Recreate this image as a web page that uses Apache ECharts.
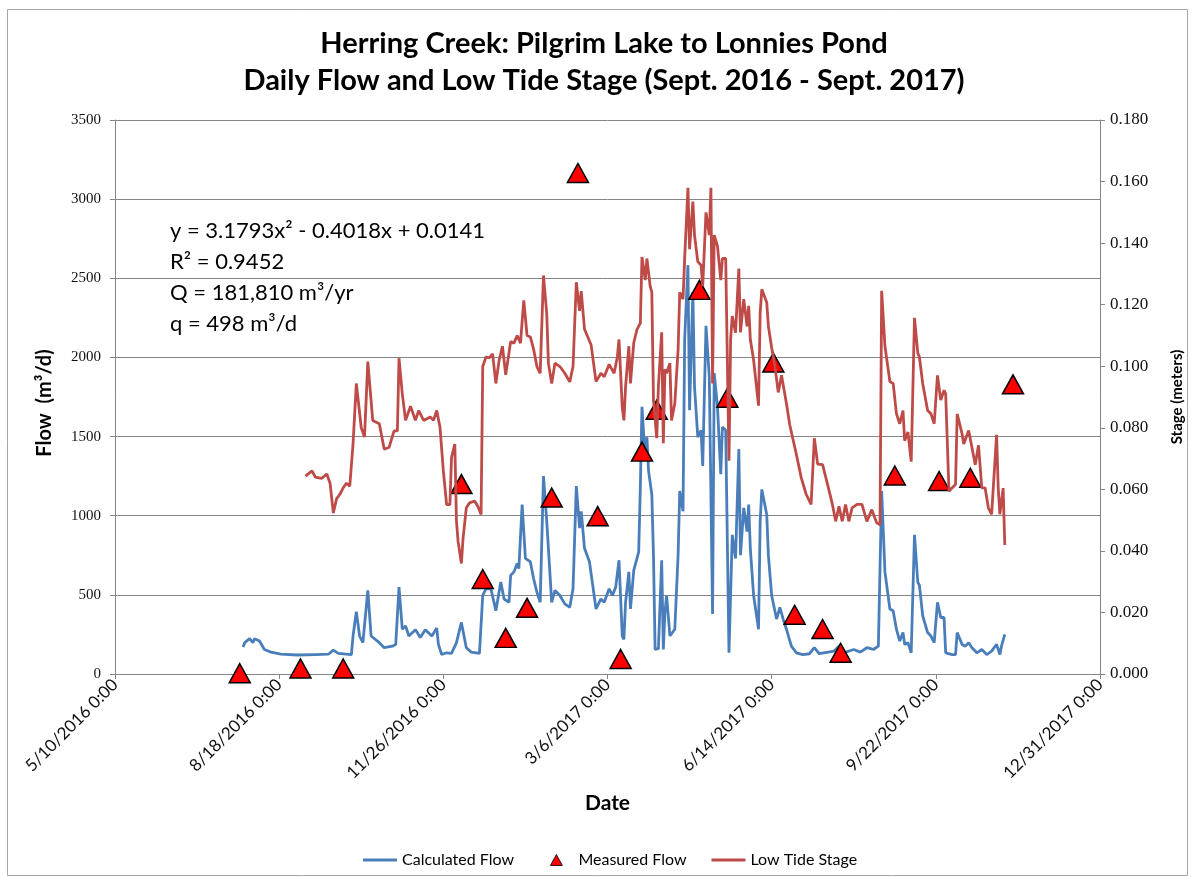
<!DOCTYPE html>
<html><head><meta charset="utf-8">
<script src="https://cdn.jsdelivr.net/npm/echarts@6/dist/echarts.min.js"></script>
<style>html,body{margin:0;padding:0;background:#fff}#c{width:1194px;height:878px}</style>
</head><body><div id="c"></div>
<script>
const titleLines = ['Herring Creek: Pilgrim Lake to Lonnies Pond', 'Daily Flow and Low Tide Stage (Sept. 2016 - Sept. 2017)'];
const xTickDates = ['2016-05-10','2016-08-18','2016-11-26','2017-03-06','2017-06-14','2017-09-22','2017-12-31'];
const xTickLabels = ['5/10/2016 0:00','8/18/2016 0:00','11/26/2016 0:00','3/6/2017 0:00','6/14/2017 0:00','9/22/2017 0:00','12/31/2017 0:00'];
const annotationLines = ['y = 3.1793x\u00b2 - 0.4018x + 0.0141', 'R\u00b2 = 0.9452', 'Q = 181,810 m\u00b3/yr', 'q = 498 m\u00b3/d'];

const calculatedFlow = [
['2016-07-27',170],['2016-07-28',198],['2016-07-31',223],['2016-08-02',198],['2016-08-03',223],['2016-08-06',208],
['2016-08-09',155],['2016-08-13',138],['2016-08-19',125],['2016-08-29',120],['2016-09-09',123],['2016-09-17',125],
['2016-09-20',151],['2016-09-23',130],['2016-10-01',123],['2016-10-02',240],['2016-10-04',394],['2016-10-06',240],
['2016-10-08',198],['2016-10-11',528],['2016-10-13',240],['2016-10-18',198],['2016-10-21',166],['2016-10-26',176],
['2016-10-28',187],['2016-10-30',549],['2016-11-01',283],['2016-11-03',304],['2016-11-05',240],['2016-11-09',280],
['2016-11-12',230],['2016-11-15',280],['2016-11-19',240],['2016-11-22',290],['2016-11-23',187],['2016-11-25',123],
['2016-11-28',134],['2016-12-01',130],['2016-12-04',198],['2016-12-07',326],['2016-12-10',166],['2016-12-13',138],
['2016-12-18',130],['2016-12-20',496],['2016-12-22',538],['2016-12-25',538],['2016-12-28',400],['2016-12-31',581],
['2017-01-02',474],['2017-01-05',453],['2017-01-06',623],['2017-01-08',645],['2017-01-10',698],['2017-01-11',666],
['2017-01-13',1070],['2017-01-15',730],['2017-01-18',709],['2017-01-20',602],['2017-01-22',517],['2017-01-24',453],
['2017-01-26',1251],['2017-01-28',964],['2017-01-30',623],['2017-01-31',453],['2017-02-02',528],['2017-02-05',496],
['2017-02-08',443],['2017-02-11',421],['2017-02-13',538],['2017-02-15',1187],['2017-02-17',921],['2017-02-18',1028],
['2017-02-20',794],['2017-02-23',709],['2017-02-25',560],['2017-02-27',411],['2017-03-02',474],['2017-03-04',453],
['2017-03-07',538],['2017-03-09',496],['2017-03-11',549],['2017-03-13',719],['2017-03-15',240],['2017-03-16',219],
['2017-03-17',453],['2017-03-19',645],['2017-03-20',411],['2017-03-22',655],['2017-03-25',772],['2017-03-26',1177],
['2017-03-27',1688],['2017-03-29',1347],['2017-03-30',1496],['2017-03-31',1283],['2017-04-02',1134],['2017-04-03',751],
['2017-04-04',155],['2017-04-06',160],['2017-04-08',719],['2017-04-09',155],['2017-04-10',389],['2017-04-11',496],
['2017-04-13',240],['2017-04-14',240],['2017-04-16',283],['2017-04-18',751],['2017-04-19',1156],['2017-04-21',1028],
['2017-04-22',2113],['2017-04-24',2583],['2017-04-25',1666],['2017-04-27',2413],['2017-04-28',1815],['2017-04-30',1496],
['2017-05-02',1540],['2017-05-03',1315],['2017-05-05',2200],['2017-05-07',1879],['2017-05-09',379],['2017-05-10',1900],
['2017-05-12',1688],['2017-05-14',1262],['2017-05-15',1560],['2017-05-17',1540],['2017-05-19',134],['2017-05-21',879],
['2017-05-23',730],['2017-05-25',1421],['2017-05-26',751],['2017-05-28',1049],['2017-05-30',900],['2017-05-31',1070],
['2017-06-01',794],['2017-06-03',496],['2017-06-06',283],['2017-06-07',964],['2017-06-08',1166],['2017-06-11',1007],
['2017-06-12',751],['2017-06-14',496],['2017-06-17',347],['2017-06-19',421],['2017-06-21',347],['2017-06-23',283],
['2017-06-26',176],['2017-06-29',134],['2017-07-03',123],['2017-07-07',128],['2017-07-10',166],['2017-07-13',128],
['2017-07-22',145],['2017-07-25',176],['2017-07-28',134],['2017-08-03',155],['2017-08-07',138],['2017-08-11',166],
['2017-08-15',155],['2017-08-18',176],['2017-08-20',1156],['2017-08-22',645],['2017-08-23',645],['2017-08-25',411],
['2017-08-27',400],['2017-08-29',283],['2017-08-31',208],['2017-09-02',262],['2017-09-03',187],['2017-09-05',198],
['2017-09-07',134],['2017-09-09',879],['2017-09-11',581],['2017-09-12',560],['2017-09-14',368],['2017-09-17',262],
['2017-09-19',240],['2017-09-21',198],['2017-09-23',453],['2017-09-25',357],['2017-09-27',357],['2017-09-28',134],
['2017-10-02',123],['2017-10-04',123],['2017-10-05',262],['2017-10-08',187],['2017-10-10',176],['2017-10-12',198],
['2017-10-14',166],['2017-10-17',134],['2017-10-20',155],['2017-10-23',123],['2017-10-26',145],['2017-10-29',187],
['2017-10-31',123],['2017-11-01',176],['2017-11-03',251]
];

const measuredFlow = [
['2016-07-25',5],['2016-08-31',35],['2016-09-26',35],['2016-12-07',1200],['2016-12-20',600],['2017-01-03',228],
['2017-01-16',418],['2017-01-31',1115],['2017-02-16',3165],['2017-02-28',997],['2017-03-14',95],['2017-03-27',1405],
['2017-04-05',1670],['2017-05-01',2427],['2017-05-18',1745],['2017-06-15',1968],['2017-06-28',374],['2017-07-15',284],
['2017-07-26',134],['2017-08-28',1254],['2017-09-24',1219],['2017-10-13',1240],['2017-11-08',1830]
];

const lowTideStage = [
['2016-09-03',0.0643],['2016-09-07',0.066],['2016-09-09',0.064],['2016-09-13',0.0636],['2016-09-16',0.065],['2016-09-18',0.062],
['2016-09-20',0.0523],['2016-09-22',0.057],['2016-09-24',0.0584],['2016-09-26',0.0605],['2016-09-28',0.062],['2016-09-30',0.061],
['2016-10-02',0.0747],['2016-10-04',0.0944],['2016-10-07',0.080],['2016-10-09',0.077],['2016-10-11',0.1015],['2016-10-14',0.0824],
['2016-10-18',0.0813],['2016-10-21',0.073],['2016-10-24',0.0737],['2016-10-27',0.079],['2016-10-29',0.079],['2016-10-30',0.1026],
['2016-11-01',0.091],['2016-11-03',0.0824],['2016-11-06',0.087],['2016-11-09',0.0824],['2016-11-11',0.0856],['2016-11-14',0.0824],
['2016-11-18',0.0835],['2016-11-20',0.0824],['2016-11-22',0.0856],['2016-11-24',0.080],['2016-11-26',0.066],['2016-11-28',0.055],
['2016-11-30',0.055],['2016-12-01',0.0704],['2016-12-03',0.0747],['2016-12-04',0.0496],['2016-12-05',0.043],['2016-12-07',0.0359],
['2016-12-08',0.044],['2016-12-10',0.054],['2016-12-12',0.0556],['2016-12-15',0.0562],['2016-12-17',0.0545],['2016-12-19',0.0518],
['2016-12-20',0.0999],['2016-12-22',0.103],['2016-12-24',0.1027],['2016-12-26',0.104],['2016-12-28',0.0944],['2016-12-30',0.102],
['2017-01-01',0.1065],['2017-01-03',0.0972],['2017-01-06',0.108],['2017-01-08',0.1075],['2017-01-10',0.110],['2017-01-12',0.1075],
['2017-01-14',0.1214],['2017-01-16',0.110],['2017-01-18',0.1095],['2017-01-20',0.1055],['2017-01-22',0.0999],['2017-01-24',0.0977],
['2017-01-26',0.1295],['2017-01-28',0.117],['2017-01-29',0.101],['2017-01-31',0.0944],['2017-02-02',0.101],['2017-02-05',0.0999],
['2017-02-08',0.0977],['2017-02-11',0.0949],['2017-02-13',0.0999],['2017-02-15',0.1273],['2017-02-17',0.118],['2017-02-18',0.1244],
['2017-02-20',0.112],['2017-02-24',0.107],['2017-02-27',0.095],['2017-03-02',0.0977],['2017-03-04',0.0966],['2017-03-07',0.1006],
['2017-03-10',0.0977],['2017-03-12',0.103],['2017-03-13',0.1087],['2017-03-15',0.0866],['2017-03-16',0.0824],['2017-03-17',0.0933],
['2017-03-19',0.1065],['2017-03-20',0.0944],['2017-03-22',0.1076],['2017-03-24',0.112],['2017-03-26',0.114],['2017-03-27',0.1355],
['2017-03-29',0.128],['2017-03-30',0.135],['2017-04-01',0.126],['2017-04-02',0.124],['2017-04-03',0.089],['2017-04-05',0.0766],
['2017-04-06',0.0933],['2017-04-08',0.111],['2017-04-09',0.075],['2017-04-10',0.099],['2017-04-11',0.0977],['2017-04-13',0.101],
['2017-04-14',0.0824],['2017-04-16',0.0879],['2017-04-18',0.1054],['2017-04-19',0.124],['2017-04-21',0.1218],['2017-04-22',0.135],
['2017-04-24',0.158],['2017-04-25',0.138],['2017-04-27',0.1535],['2017-04-28',0.1426],['2017-04-30',0.134],['2017-05-02',0.1328],
['2017-05-03',0.126],['2017-05-05',0.150],['2017-05-07',0.1426],['2017-05-08',0.158],['2017-05-09',0.0944],['2017-05-10',0.1426],
['2017-05-12',0.139],['2017-05-14',0.128],['2017-05-15',0.135],['2017-05-17',0.135],['2017-05-19',0.0693],['2017-05-20',0.1087],
['2017-05-21',0.1163],['2017-05-23',0.1109],['2017-05-25',0.1317],['2017-05-26',0.111],['2017-05-28',0.1218],['2017-05-30',0.113],
['2017-05-31',0.1196],['2017-06-01',0.1087],['2017-06-03',0.102],['2017-06-06',0.0872],['2017-06-07',0.1174],['2017-06-08',0.125],
['2017-06-11',0.1207],['2017-06-12',0.113],['2017-06-14',0.106],['2017-06-16',0.0999],['2017-06-18',0.0915],['2017-06-20',0.0971],
['2017-06-23',0.0879],['2017-06-25',0.081],['2017-06-29',0.0715],['2017-07-02',0.0638],['2017-07-05',0.0584],['2017-07-08',0.0551],
['2017-07-10',0.0766],['2017-07-12',0.0682],['2017-07-15',0.068],['2017-07-18',0.0617],['2017-07-21',0.0551],['2017-07-23',0.0496],
['2017-07-25',0.0545],['2017-07-27',0.0496],['2017-07-29',0.0551],['2017-07-31',0.0496],['2017-08-02',0.054],['2017-08-05',0.0551],
['2017-08-08',0.0551],['2017-08-11',0.0496],['2017-08-14',0.0534],['2017-08-17',0.0491],['2017-08-19',0.0485],['2017-08-20',0.1245],
['2017-08-22',0.1065],['2017-08-23',0.1065],['2017-08-25',0.095],['2017-08-27',0.0944],['2017-08-29',0.0846],['2017-08-31',0.0813],
['2017-09-02',0.0856],['2017-09-03',0.0758],['2017-09-05',0.0786],['2017-09-07',0.069],['2017-09-09',0.1157],['2017-09-11',0.1043],
['2017-09-12',0.103],['2017-09-14',0.0944],['2017-09-17',0.0856],['2017-09-19',0.0846],['2017-09-21',0.0813],['2017-09-23',0.097],
['2017-09-25',0.089],['2017-09-27',0.0922],['2017-09-28',0.091],['2017-09-30',0.0594],['2017-10-02',0.0605],['2017-10-04',0.0616],
['2017-10-05',0.0845],['2017-10-08',0.078],['2017-10-09',0.0747],['2017-10-12',0.0791],['2017-10-14',0.0736],['2017-10-16',0.068],
['2017-10-18',0.0743],['2017-10-20',0.0605],['2017-10-22',0.0605],['2017-10-24',0.054],['2017-10-26',0.0519],['2017-10-27',0.0519],
['2017-10-29',0.0777],['2017-10-30',0.0605],['2017-10-31',0.0519],['2017-11-02',0.0604],['2017-11-03',0.0419]
];

function toTime(s) { const p = s.split('-'); return Date.UTC(+p[0], +p[1] - 1, +p[2]); }
const tickTimes = xTickDates.map(toTime);
const asPoints = arr => arr.map(d => [toTime(d[0]), d[1]]);

const chart = echarts.init(document.getElementById('c'), null, { renderer: 'canvas' });
const axisGray = '#868686';
chart.setOption({
  animation: false,
  backgroundColor: '#ffffff',
  title: {
    text: titleLines.join('\n'),
    left: 604, top: 25, padding: 0, textAlign: 'center',
    textStyle: { fontFamily: 'Lato', fontWeight: 'bold', fontSize: 29, lineHeight: 37, color: '#000' }
  },
  grid: { left: 115, right: 94, top: 120, bottom: 204, containLabel: false, outerBoundsMode: 'none' },
  legend: {
    top: 847, left: 358, itemWidth: 34, itemHeight: 12, itemGap: 25,
    textStyle: { fontFamily: 'Lato', fontSize: 16, color: '#000' },
    data: [
      { name: 'Calculated Flow', icon: 'path://M0,0H34V3H0Z', itemStyle: { borderWidth: 0 } },
      { name: 'Measured Flow', icon: 'path://M0,0L0,0M34,0L34,0M17,0L23,11H11Z', itemStyle: { borderWidth: 0.8, borderColor: '#000' } },
      { name: 'Low Tide Stage', icon: 'path://M0,0H34V3H0Z', itemStyle: { borderWidth: 0 } }
    ]
  },
  xAxis: {
    type: 'value',
    min: tickTimes[0], max: tickTimes[tickTimes.length - 1],
    name: 'Date', nameLocation: 'middle', nameGap: 119,
    nameTextStyle: { fontFamily: 'Lato', fontWeight: 'bold', fontSize: 21, color: '#000' },
    axisLine: { show: true, lineStyle: { color: axisGray, width: 1 } },
    axisTick: { show: true, customValues: tickTimes, length: 5, lineStyle: { color: axisGray } },
    axisLabel: {
      customValues: tickTimes, rotate: 45, margin: 8,
      fontFamily: 'Lato', fontSize: 17, color: '#111',
      formatter: function (v) {
        for (let i = 0; i < tickTimes.length; i++) { if (Math.abs(tickTimes[i] - v) < 43200000) return xTickLabels[i]; }
        return '';
      }
    },
    splitLine: { show: false }
  },
  yAxis: [
    {
      type: 'value', min: 0, max: 3500, interval: 500, position: 'left',
      name: 'Flow  (m\u00b3/d)', nameLocation: 'middle', nameGap: 60,
      nameTextStyle: { fontFamily: 'Lato', fontWeight: 'bold', fontSize: 20, color: '#000', padding: [0, 12, 0, 0] },
      axisLine: { show: true, lineStyle: { color: axisGray, width: 1 } },
      axisTick: { show: true, length: 5, lineStyle: { color: axisGray } },
      axisLabel: { fontFamily: 'Liberation Serif', fontSize: 15, color: '#111', margin: 14,
        formatter: function (v) { return String(v); } },
      splitLine: { show: true, lineStyle: { color: axisGray, width: 1 } }
    },
    {
      type: 'value', min: 0, max: 0.18, interval: 0.02, position: 'right',
      name: 'Stage (meters)', nameLocation: 'middle', nameGap: 70,
      nameTextStyle: { fontFamily: 'Lato', fontWeight: 'bold', fontSize: 15, color: '#000' },
      axisLine: { show: true, lineStyle: { color: axisGray, width: 1 } },
      axisTick: { show: true, length: 5, lineStyle: { color: axisGray } },
      axisLabel: { fontFamily: 'Liberation Serif', fontSize: 17, color: '#111', margin: 10,
        formatter: function (v) { return v.toFixed(3); } },
      splitLine: { show: false }
    }
  ],
  series: [
    {
      name: 'Calculated Flow', type: 'line', yAxisIndex: 0, data: asPoints(calculatedFlow),
      symbol: 'none', showSymbol: false, z: 2,
      lineStyle: { color: '#4A7EBB', width: 2.8 }, itemStyle: { color: '#4A7EBB' }
    },
    {
      name: 'Measured Flow', type: 'scatter', yAxisIndex: 0, data: asPoints(measuredFlow),
      symbol: 'triangle', symbolSize: [21, 19], z: 3,
      itemStyle: { color: '#FF0000', borderColor: '#000', borderWidth: 1.5, opacity: 1 }
    },
    {
      name: 'Low Tide Stage', type: 'line', yAxisIndex: 1, data: asPoints(lowTideStage),
      symbol: 'none', showSymbol: false, z: 4,
      lineStyle: { color: '#BE4B48', width: 2.8 }, itemStyle: { color: '#BE4B48' }
    }
  ],
  graphic: [
    { type: 'rect', silent: true, z: -10, shape: { x: 7.5, y: 9.5, width: 1180, height: 866 },
      style: { fill: 'none', stroke: '#A6A6A6', lineWidth: 1 } },
    { type: 'text', left: 170, top: 215, silent: true,
      style: { text: annotationLines.join('\n'), fontFamily: 'Lato', fontSize: 22, lineHeight: 31, fill: '#000' } }
  ]
});
</script>
</body></html>
